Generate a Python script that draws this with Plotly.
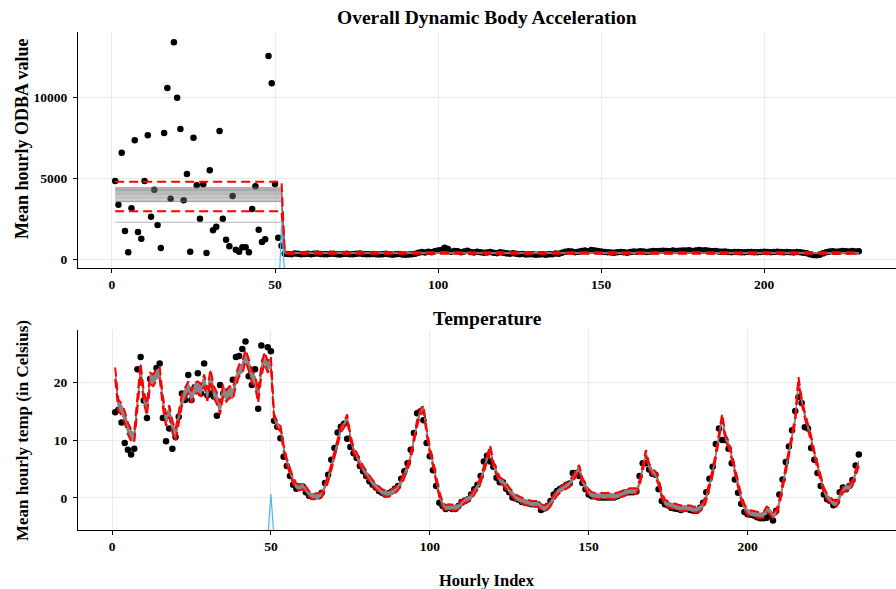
import plotly.graph_objects as go

# ---------------- ODBA panel data ----------------
odba_high = [4815, 3354, 6564, 1728, 412, 3128, 7326, 1667, 1255, 4815,
             7635, 2614, 4281, 2099, 679, 7779, 10557, 3725, 13377, 9961,
             8026, 3622, 5248, 453, 7491, 4548, 2490, 4610, 370, 5474,
             1770, 1996, 7903, 2490, 1194, 782, 3890, 576, 453, 720,
             720, 412, 3087, 4486, 1811, 1050, 1214, 12533, 10846, 4631,
             1317, 823]
odba_low = [330, 310, 300, 340, 320, 290, 310, 330,
            300, 320, 340, 310, 290, 300, 330, 320, 300, 280,
            310, 330, 300, 290, 320, 340, 310, 300, 290, 310,
            300, 280, 290, 320, 300, 270, 290, 310, 280, 260,
            280, 300, 320, 380, 430, 400, 450, 420, 480, 520,
            560, 700, 620, 450, 500, 480, 420, 460, 510, 430,
            400, 450, 420, 380, 400, 430, 390, 360, 410, 380,
            350, 330, 360, 320, 300, 310, 280, 300, 290, 270,
            280, 300, 260, 290, 300, 340, 320, 380, 450, 480,
            460, 420, 450, 500, 520, 480, 550, 530, 500, 470,
            440, 420, 400, 380, 420, 440, 410, 390, 430, 460,
            450, 480, 470, 440, 460, 500, 480, 490, 510, 500,
            480, 520, 500, 510, 530, 520, 540, 500, 520, 550,
            530, 540, 510, 480, 500, 470, 450, 460, 430, 420,
            440, 430, 410, 420, 440, 430, 410, 420, 440, 450,
            430, 420, 440, 450, 430, 410, 440, 420, 400, 430,
            420, 380, 360, 300, 250, 230, 260, 350, 420, 460,
            480, 450, 470, 500, 480, 460, 490, 470, 480]
odba_cp = 52
# posterior sample means (segment 1, segment 2)
odba_seg1_samples = [4420, 4370, 4320, 4280, 4230, 4180, 4120, 4060, 4000,
                     3950, 3880, 3800, 3720, 3640, 3570, 3540, 2270]
odba_seg2_samples = [360, 370, 375, 380, 385, 390, 370, 365, 380, 375,
                     385, 370, 360, 380, 390, 375, 370]
odba_ci_upper = [4772, 420]
odba_ci_lower = [2944, 330]
odba_cp_x = [1, 51, 52, 53, 54, 229]
odba_cp_dens = [-3000, -3000, 2100, -1000, -3000, -3000]

# ---------------- Temperature panel data ----------------
temp = [14.8, 15.2, 13.0, 9.5, 8.3, 7.5, 8.5, 22.2, 24.3, 16.8,
        13.8, 20.5, 21.0, 22.4, 23.2, 13.8, 9.8, 12.0, 8.5, 10.5,
        14.0, 18.0, 16.9, 21.2, 16.9, 19.1, 21.5, 18.0, 23.2, 17.7,
        18.0, 17.5, 14.2, 19.5, 18.0, 17.8, 18.5, 20.4, 24.3, 24.5,
        25.7, 27.0, 21.0, 19.5, 22.2, 15.4, 26.3, 23.7, 26.0, 25.3,
        13.3, 12.3, 10.3, 7.1, 5.5, 3.8, 2.3, 1.6, 2.0, 2.0,
        1.0, 0.4, 0.2, 0.3, 0.3, 0.9, 2.6, 4.0, 6.6, 8.6,
        11.3, 12.3, 12.8, 10.2, 8.8, 7.7, 6.9, 5.5, 4.6, 3.8,
        2.9, 2.3, 1.8, 1.2, 0.9, 0.6, 0.8, 1.1, 1.6, 2.05,
        3.3, 4.6, 6.0, 8.3, 11.2, 14.6, 14.9, 13.4, 9.5, 7.2,
        4.8, 2.05, -0.8, -1.4, -1.9, -1.7, -1.9, -1.9, -1.4, -0.7,
        -0.5, -0.2, 0.6, 1.5, 2.3, 3.8, 6.3, 7.3, 6.3, 5.4,
        3.5, 2.7, 2.7, 1.6, 1.0, 0.1, -0.1, -0.3, -0.7, -0.8,
        -0.9, -1.1, -1.1, -1.1, -2.05, -1.8, -1.4, -0.5, 0.6, 1.2,
        1.6, 1.9, 2.3, 2.5, 4.3, 4.3, 3.8, 2.6, 1.5, 0.6,
        0.3, 0.3, 0.1, 0.1, 0.1, 0.1, 0.1, 0.1, 0.3, 0.6,
        0.9, 1.0, 1.0, 1.0, 1.1, 3.8, 6.0, 6.0, 4.9, 4.2,
        4.0, 1.5, -0.5, -1.1, -1.3, -1.7, -1.8, -1.9, -2.05, -1.9,
        -1.9, -2.05, -2.2, -2.2, -1.7, -0.8, 1.0, 3.3, 5.4, 9.3,
        12.0, 10.0, 10.0, 8.5, 6.0, 3.2, 0.9, -1.0, -2.4, -2.8,
        -2.9, -3.0, -3.3, -3.5, -3.5, -3.4, -3.0, -3.9, -2.2, 0.6,
        3.2, 6.2, 8.9, 11.7, 15.0, 17.4, 16.4, 12.2, 12.0, 8.6,
        6.6, 4.3, 2.05, 0.6, -0.2, -0.5, -1.25, -0.7, 1.0, 1.8,
        1.5, 2.05, 3.1, 5.6, 7.5]
temp_fit = [21.5, 16.0, 15.3, 14.0, 12.0, 10.8, 10.5, 17.0, 22.3, 17.4,
            15.2, 20.6, 20.3, 21.3, 21.6, 16.6, 13.4, 15.0, 12.3, 10.8,
            14.0, 16.9, 18.0, 19.1, 17.4, 18.9, 19.1, 18.6, 20.3, 17.7,
            21.2, 18.3, 17.2, 15.4, 18.6, 17.6, 18.3, 17.9, 20.3, 22.0,
            22.4, 24.6, 23.0, 20.9, 20.3, 17.4, 22.0, 24.2, 22.6, 23.5,
            14.0, 12.6, 12.0, 8.7, 6.3, 4.6, 3.0, 2.0, 1.8, 2.0,
            1.5, 0.7, 0.3, 0.3, 0.3, 0.6, 1.8, 3.3, 5.3, 7.6,
            10.0, 11.8, 12.6, 13.9, 10.5, 8.3, 7.3, 6.2, 5.0, 4.2,
            3.3, 2.6, 2.0, 1.5, 1.0, 0.8, 0.7, 1.0, 1.3, 1.8,
            2.7, 4.0, 5.3, 7.2, 9.8, 12.9, 14.8, 15.5, 11.5, 8.3,
            6.0, 3.4, 0.6, -1.1, -1.7, -1.6, -1.6, -1.7, -1.5, -1.0,
            -0.4, -0.2, 0.2, 1.1, 1.9, 3.1, 5.0, 7.0, 8.6, 5.8,
            4.4, 3.1, 2.7, 2.1, 1.3, 0.6, 0.1, -0.2, -0.5, -0.7,
            -0.8, -1.0, -1.0, -1.0, -1.5, -1.8, -1.5, -0.9, 0.0, 0.9,
            1.4, 1.8, 2.1, 2.4, 3.4, 4.4, 5.2, 3.0, 2.0, 1.0,
            0.5, 0.4, 0.3, 0.4, 0.3, 0.4, 0.3, 0.3, 0.4, 0.6,
            0.8, 1.1, 1.2, 1.2, 1.2, 2.5, 5.0, 7.8, 5.5, 4.5,
            4.1, 2.8, 0.5, -0.8, -1.1, -1.3, -1.5, -1.6, -1.8, -1.7,
            -1.7, -1.8, -2.0, -2.0, -1.8, -1.2, 0.1, 2.2, 4.4, 7.4,
            10.6, 14.0, 10.5, 9.2, 7.2, 4.6, 2.0, 0.0, -1.6, -2.4,
            -2.6, -2.7, -2.9, -3.0, -2.9, -2.0, -2.3, -3.0, -2.6, -0.8,
            2.0, 4.8, 7.6, 10.4, 13.6, 20.4, 16.8, 14.3, 12.3, 10.2,
            7.6, 5.4, 3.2, 1.3, 0.2, -0.4, -0.9, -1.0, 0.2, 1.4,
            1.8, 1.8, 2.6, 4.4, 6.0]
temp_cp = 50
temp_ci_halfwidth = [1.0, 0.5]     # credible band half-width per regime
temp_gray_halfwidth = [0.8, 0.4]   # posterior-sample spread per regime
temp_cp_x = [1, 49, 50, 51, 235]
temp_cp_dens = [-7, -7, 0.7, -7, -7]

# tick labels
x_ticks = [0, 50, 100, 150, 200]
odba_ticks = [0, 5000, 10000]
temp_ticks = [0, 10, 20]

# ---------------- build figure ----------------
odba = odba_high + odba_low
odba_x = list(range(1, len(odba) + 1))
n_odba = len(odba)
temp_x = list(range(1, len(temp) + 1))

FONT = "Liberation Serif"
GRAY = "rgba(120,120,120,0.55)"
RED = "#FF0000"
BLUE = "#56B4E9"
DASH = "9px,5px"

fig = go.Figure()

# --- top panel ---
fig.add_trace(go.Scatter(x=odba_x, y=odba, mode="markers",
                         marker=dict(color="black", size=6.5),
                         xaxis="x", yaxis="y", hoverinfo="skip"))
seg_x = [1, odba_cp, odba_cp + 1, n_odba]
for a, b in zip(odba_seg1_samples, odba_seg2_samples):
    fig.add_trace(go.Scatter(x=seg_x, y=[a, a, b, b], mode="lines",
                             line=dict(color=GRAY, width=1),
                             xaxis="x", yaxis="y", hoverinfo="skip"))
for ci in (odba_ci_upper, odba_ci_lower):
    fig.add_trace(go.Scatter(x=seg_x, y=[ci[0], ci[0], ci[1], ci[1]], mode="lines",
                             line=dict(color=RED, width=2, dash=DASH),
                             xaxis="x", yaxis="y", hoverinfo="skip"))
fig.add_trace(go.Scatter(x=odba_cp_x, y=odba_cp_dens, mode="lines",
                         line=dict(color=BLUE, width=1.2),
                         xaxis="x", yaxis="y", hoverinfo="skip"))

# --- bottom panel ---
fig.add_trace(go.Scatter(x=temp_x, y=temp, mode="markers",
                         marker=dict(color="black", size=6.5),
                         xaxis="x2", yaxis="y2", hoverinfo="skip"))
gw = [temp_gray_halfwidth[0] if i <= temp_cp else temp_gray_halfwidth[1] for i in temp_x]
cw = [temp_ci_halfwidth[0] if i <= temp_cp else temp_ci_halfwidth[1] for i in temp_x]
fig.add_trace(go.Scatter(x=temp_x, y=[f - w for f, w in zip(temp_fit, gw)], mode="lines",
                         line=dict(color="rgb(130,130,130)", width=1),
                         xaxis="x2", yaxis="y2", hoverinfo="skip"))
fig.add_trace(go.Scatter(x=temp_x, y=[f + w for f, w in zip(temp_fit, gw)], mode="lines",
                         line=dict(color="rgb(130,130,130)", width=1),
                         fill="tonexty", fillcolor="rgb(135,135,135)",
                         xaxis="x2", yaxis="y2", hoverinfo="skip"))
for sgn in (1, -1):
    fig.add_trace(go.Scatter(x=temp_x, y=[f + sgn * w for f, w in zip(temp_fit, cw)],
                             mode="lines", line=dict(color=RED, width=2, dash=DASH),
                             xaxis="x2", yaxis="y2", hoverinfo="skip"))
fig.add_trace(go.Scatter(x=temp_cp_x, y=temp_cp_dens, mode="lines",
                         line=dict(color=BLUE, width=1.2),
                         xaxis="x2", yaxis="y2", hoverinfo="skip"))

W, H = 896, 589
tickfont = dict(family=FONT, size=13.5, color="black", weight="bold")
axis_common = dict(showgrid=True, gridcolor="#EBEBEB", gridwidth=1.2,
                   showline=True, linecolor="black", linewidth=1.3,
                   ticks="outside", ticklen=4, tickcolor="black", tickwidth=1.1,
                   zeroline=False, tickfont=tickfont, tickformat="d")
xdom = [78 / W, 1.0]
fig.update_layout(
    width=W, height=H, showlegend=False,
    margin=dict(l=0, r=0, t=0, b=0),
    plot_bgcolor="white", paper_bgcolor="white",
    xaxis=dict(domain=xdom, anchor="y", range=[-10.4, 240.4],
               tickvals=x_ticks, ticktext=[str(v) for v in x_ticks], **axis_common),
    yaxis=dict(domain=[1 - 268 / H, 1 - 32 / H], anchor="x", range=[-555, 14012],
               tickvals=odba_ticks, ticktext=[str(v) for v in odba_ticks],
               ticklabelstandoff=3, **axis_common),
    xaxis2=dict(domain=xdom, anchor="y2", range=[-10.7, 246.7],
                tickvals=x_ticks, ticktext=[str(v) for v in x_ticks], **axis_common),
    yaxis2=dict(domain=[1 - 530 / H, 1 - 330 / H], anchor="x2", range=[-5.52, 28.97],
                tickvals=temp_ticks, ticktext=[str(v) for v in temp_ticks],
                ticklabelstandoff=3, **axis_common),
)

def ann(text, x, y, size, angle=0):
    fig.add_annotation(text="<b>%s</b>" % text, x=x / W, y=1 - y / H,
                       xref="paper", yref="paper", showarrow=False,
                       textangle=angle, xanchor="center", yanchor="middle",
                       font=dict(family=FONT, size=size, color="black"))

ann("Overall Dynamic Body Acceleration", 487, 17, 19.5)
ann("Temperature", 487, 318, 19.5)
ann("Mean hourly ODBA value", 22, 139, 18, -90)
ann("Mean hourly temp (in Celsius)", 22, 431, 17, -90)
ann("Hourly Index", 487, 580, 16.5)

fig.write_html("out.html")
